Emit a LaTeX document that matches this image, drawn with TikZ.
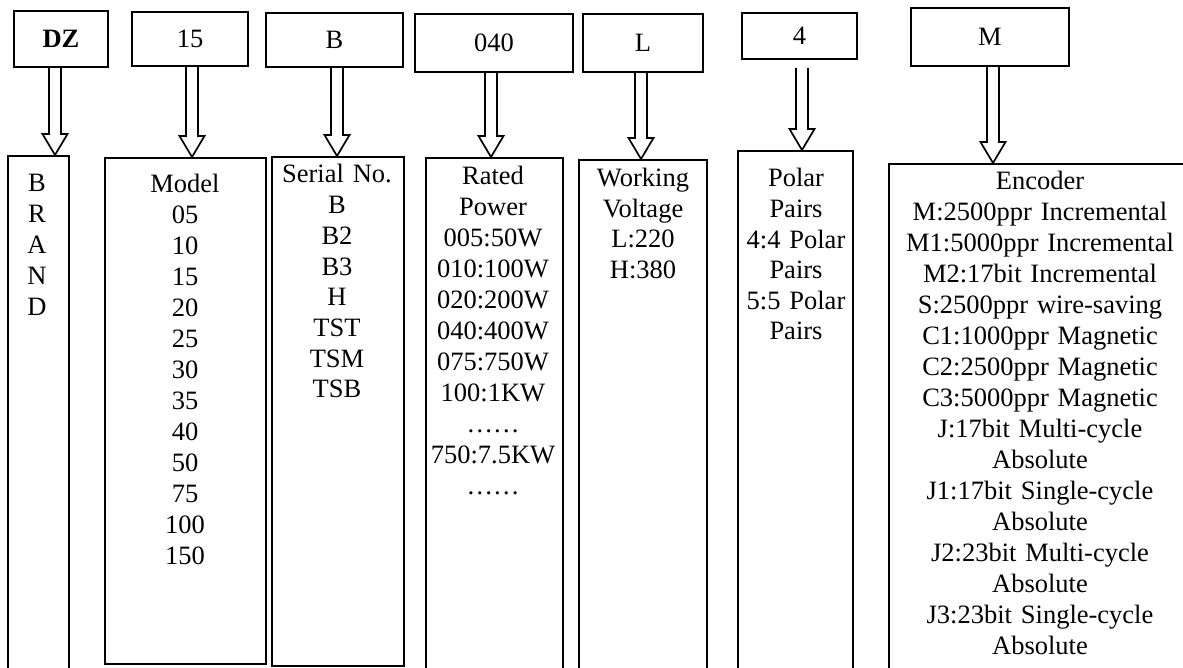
\documentclass[tikz,border=0pt]{standalone}
\usepackage{fontspec}
\setmainfont{Liberation Serif}
\usetikzlibrary{calc}
\tikzset{
  codebox/.style={draw,line width=2pt,inner sep=0pt},
  listbox/.style={draw,line width=2pt,inner sep=0pt},
  listtext/.style={anchor=base,inner sep=0pt,text width=300pt,align=center},
  hollow/.style={line width=1.7pt,line join=miter}
}
\newcommand{\hollowdown}[3]{%
  \draw[hollow] let \p1=(#2), \p2=(#3) in
    (#1pt-6pt,\y1) -- (#1pt-6pt,\y2+21pt) -- (#1pt-12.5pt,\y2+21pt) -- (#1pt,\y2)
    -- (#1pt+12.5pt,\y2+21pt) -- (#1pt+6pt,\y2+21pt) -- (#1pt+6pt,\y1);}
\begin{document}
\begin{tikzpicture}[x=1pt,y=-1pt,font=\fontsize{26.5}{31}\selectfont]
  \useasboundingbox (0,0) rectangle (1183,668);
  \clip (0,0) rectangle (1183,668);
  % code boxes
  \node[codebox,minimum width=94,minimum height=56,font=\fontsize{26.5}{31}\selectfont\bfseries] (dz) at (61,39) {DZ};
  \node[codebox,minimum width=116,minimum height=54] (n15) at (190,39) {15};
  \node[codebox,minimum width=137,minimum height=54] (nb) at (334.5,40) {B};
  \node[codebox,minimum width=158,minimum height=58] (n040) at (494,43) {040};
  \node[codebox,minimum width=120,minimum height=58] (nl) at (643,43) {L};
  \node[codebox,minimum width=115,minimum height=46] (n4) at (799.5,36) {4};
  \node[codebox,minimum width=158,minimum height=58] (nm) at (990,37) {M};
  % list boxes
  \node[listbox,minimum width=61,minimum height=534] (brand) at (38.5,423) {};
  \node[listbox,minimum width=161,minimum height=506] (model) at (185.5,411) {};
  \node[listbox,minimum width=132,minimum height=509] (serial) at (338,411.5) {};
  \node[listbox,minimum width=137,minimum height=532] (rated) at (494.5,424) {};
  \node[listbox,minimum width=128,minimum height=530] (volt) at (643,425) {};
  \node[listbox,minimum width=115,minimum height=539] (polar) at (795.5,420.5) {};
  \node[listbox,minimum width=306,minimum height=526] (enc) at (1042,427) {};
  \node[listtext] (brandtxt) at (37,192) {B\\R\\A\\N\\D};
  \node[listtext] (modeltxt) at (185,193) {Model\\05\\10\\15\\20\\25\\30\\35\\40\\50\\75\\100\\150};
  \node[listtext,font=\fontsize{26.5}{30.7}\selectfont] (serialtxt) at (337,183) {Serial No.\\B\\B2\\B3\\H\\TST\\TSM\\TSB};
  \node[listtext] (ratedtxt) at (493,185) {Rated\\Power\\005:50W\\010:100W\\020:200W\\040:400W\\075:750W\\100:1KW\\……\\750:7.5KW\\……};
  \node[listtext,font=\fontsize{26.5}{30.5}\selectfont] (volttxt) at (643,187) {Working\\Voltage\\L:220\\H:380};
  \node[listtext,font=\fontsize{26.5}{30.6}\selectfont] (polartxt) at (796,187) {Polar\\Pairs\\4:4 Polar\\Pairs\\5:5 Polar\\Pairs};
  \node[listtext] (enctxt) at (1040,190) {Encoder\\M:2500ppr Incremental\\M1:5000ppr Incremental\\M2:17bit Incremental\\S:2500ppr wire-saving\\C1:1000ppr Magnetic\\C2:2500ppr Magnetic\\C3:5000ppr Magnetic\\J:17bit Multi-cycle\\Absolute\\J1:17bit Single-cycle\\Absolute\\J2:23bit Multi-cycle\\Absolute\\J3:23bit Single-cycle\\Absolute};
  % arrows
  \coordinate (n4foot) at (802,68);
  \hollowdown{55}{dz.south}{brand.north}
  \hollowdown{192}{n15.south}{model.north}
  \hollowdown{337}{nb.south}{serial.north}
  \hollowdown{491}{n040.south}{rated.north}
  \hollowdown{641}{nl.south}{volt.north}
  \hollowdown{802}{n4foot}{polar.north}
  \hollowdown{993}{nm.south}{enc.north}
\end{tikzpicture}
\end{document}
